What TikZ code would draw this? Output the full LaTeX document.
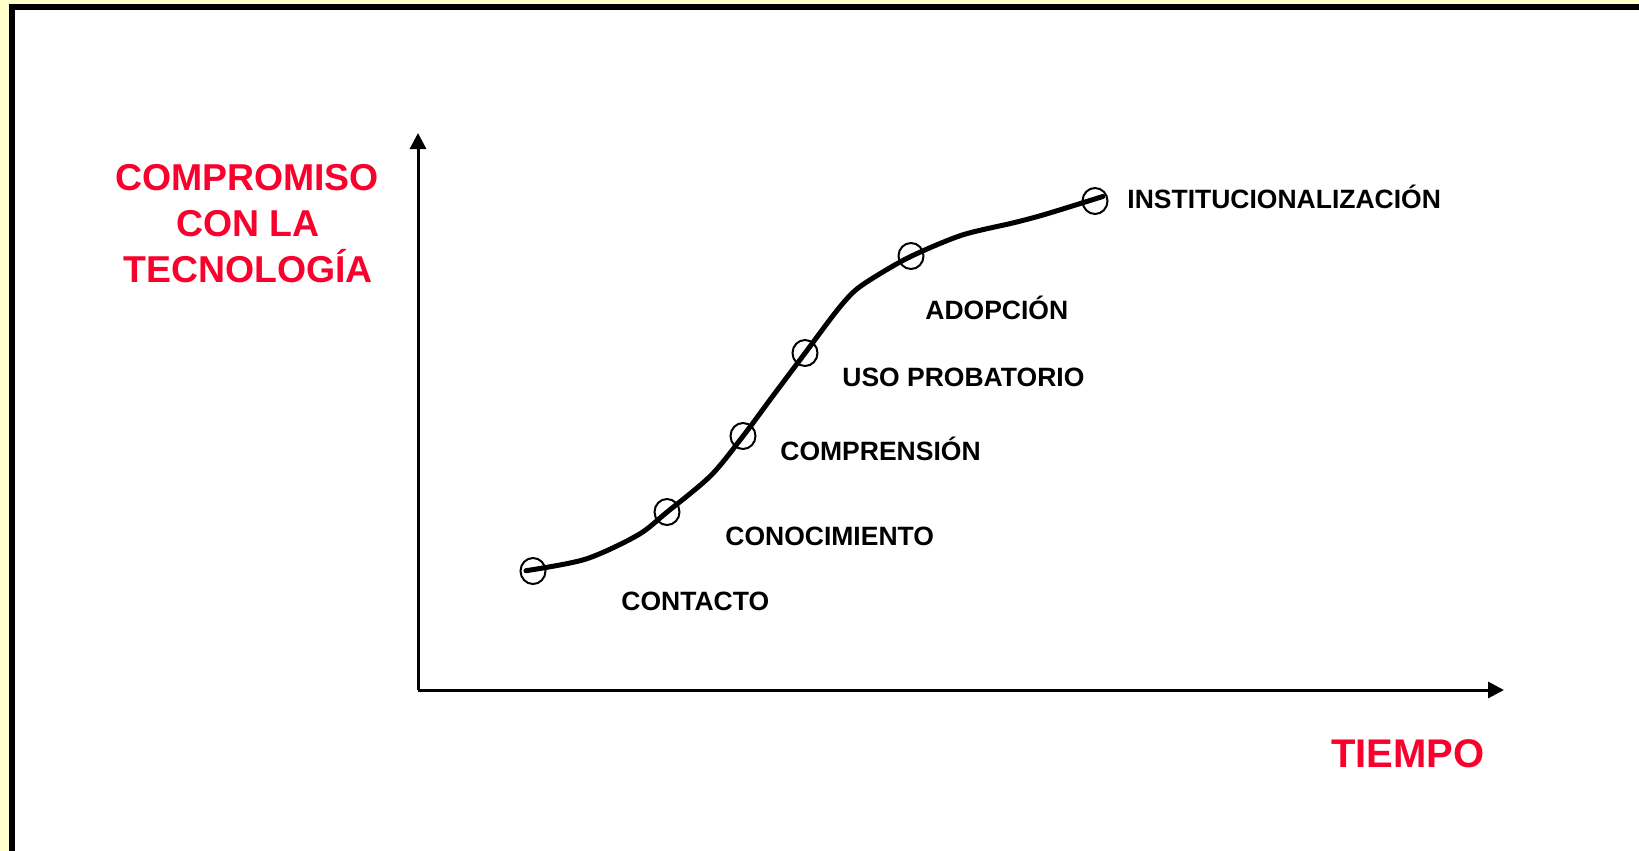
\documentclass[tikz,border=0pt]{standalone}
\usepackage{fontspec}
\setmainfont{Liberation Sans}
\usetikzlibrary{arrows.meta,shapes.geometric}
\definecolor{bgyellow}{RGB}{255,255,204}
\definecolor{titlered}{RGB}{250,0,45}
\begin{document}
\begin{tikzpicture}[x=0.5pt,y=-0.5pt,
  stage/.style={anchor=base west,inner sep=0pt,font=\bfseries\fontsize{13.25}{15}\selectfont},
  redlabel/.style={anchor=base,inner sep=0pt,text=titlered,font=\bfseries\fontsize{18.7}{21}\selectfont},
  ring/.style={ellipse,draw,line width=1pt,minimum width=12.5pt,minimum height=13pt,inner sep=0pt},
  axis/.style={line width=1.5pt,-{Triangle[length=8pt,width=8pt]}},
  curve/.style={line width=2.5pt,line cap=round}]
\useasboundingbox (0,0) rectangle (1639,851);
\fill[bgyellow] (0,0) rectangle (1639,851);
\fill[black] (9,4) rectangle (1639,851);
\fill[white] (15,10) rectangle (1639,851);
% axes
\coordinate (O) at (418,690);
\coordinate (Ytip) at (418,133);
\coordinate (Xtip) at (1504,690);
\draw[axis] (O) -- (Ytip);
\draw[axis] (O) -- (Xtip);
% curve
\draw[curve] plot[smooth,tension=0.5] coordinates {(526,570.7) (585.4,559.2) (637.6,535.2) (666.9,512.2) (710.8,475.6) (743.2,435.9) (773.5,395.1) (804.9,353.3) (836.2,311.5) (855,290.6) (878,274.9) (911.5,256.1) (961.7,235.2) (1013.9,222.7) (1045.3,214.3) (1102.8,196.5)};
% stage markers
\node[ring] (c1) at (533,571) {};
\node[ring] (c2) at (667,512) {};
\node[ring] (c3) at (743,436) {};
\node[ring] (c4) at (805,353) {};
\node[ring] (c5) at (911,256) {};
\node[ring] (c6) at (1095,201) {};
% stage labels
\node[stage] (l6) at (1127,208) {INSTITUCIONALIZACIÓN};
\node[stage] (l5) at (925,319) {ADOPCIÓN};
\node[stage] (l4) at (842,386) {USO PROBATORIO};
\node[stage] (l3) at (780,460) {COMPRENSIÓN};
\node[stage] (l2) at (725,545) {CONOCIMIENTO};
\node[stage] (l1) at (621,610) {CONTACTO};
% axis titles
\node[redlabel] (y1) at (247,190.5) {COMPROMISO};
\node[redlabel] (y2) at (248,236.5) {CON LA};
\node[redlabel] (y3) at (248,282.5) {TECNOLOGÍA};
\node[redlabel,font=\bfseries\fontsize{20}{23}\selectfont] (xt) at (1408,767) {TIEMPO};
\end{tikzpicture}
\end{document}
